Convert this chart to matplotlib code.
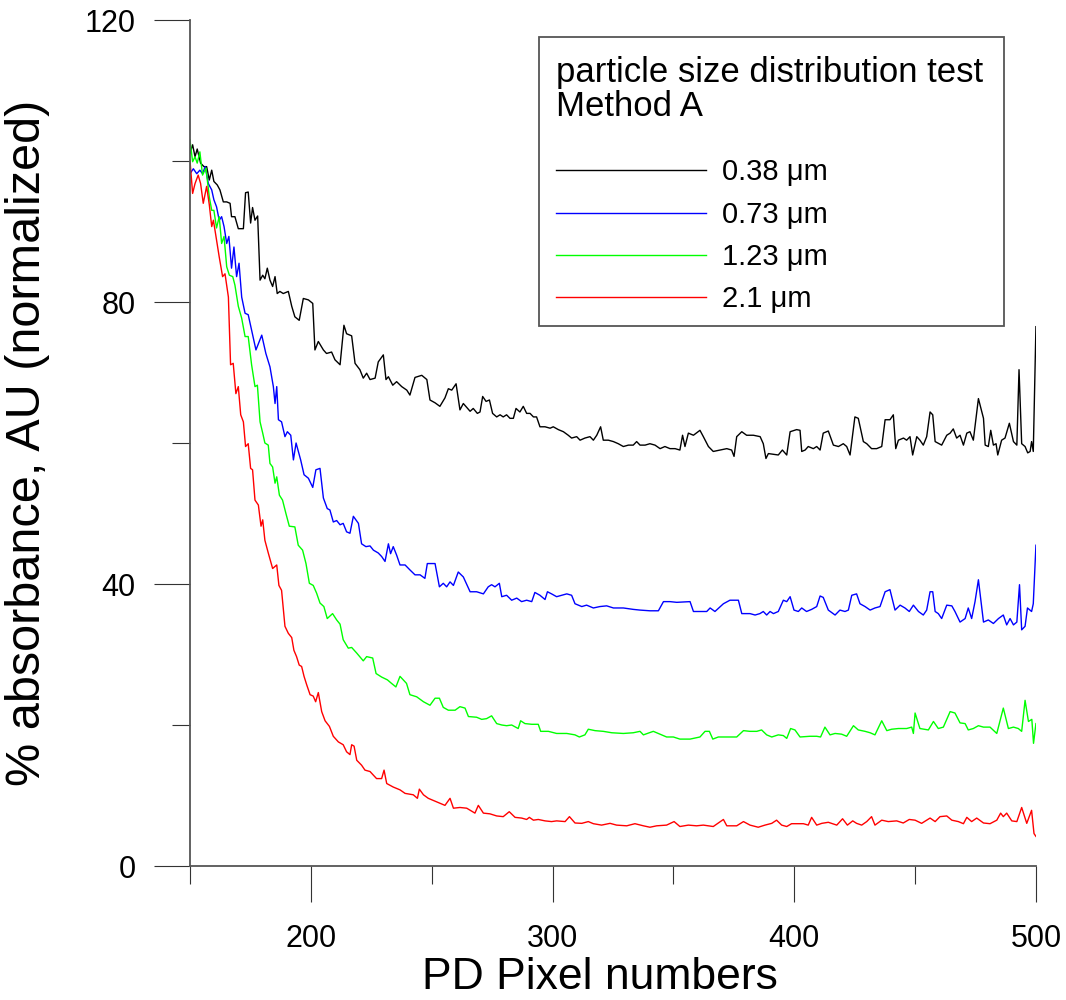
import numpy as np
import matplotlib
matplotlib.use('Agg')
import matplotlib.pyplot as plt
from matplotlib.patches import Rectangle

plt.rcParams['font.family'] = ['Liberation Sans', 'DejaVu Sans']

# values (pixel number, % absorbance)
x_038 = [150, 151.1, 152.1, 153.0, 154.4, 155.8, 156.9, 158.0, 159.0, 159.9,
         161.3, 162.4, 163.8, 165.2, 166.6, 167.2, 168.6, 170.0, 172.1, 173.0,
         174.1, 175.1, 175.9, 176.9, 178.0, 179.0, 180.1, 181.0, 182.0, 183.1,
         184.2, 185.2, 186.1, 187.2, 188.6, 190.7, 192.1, 193.4, 195.2, 196.9,
         199.0, 200.8, 201.7, 203.1, 205.2, 206.5, 208.6, 210.0, 212.1, 213.7,
         214.8, 216.9, 218.3, 220.3, 221.7, 223.1, 224.5, 226.6, 227.9, 230.0,
         231.1, 232.1, 233.9, 235.5, 237.6, 239.7, 241.0, 243.1, 245.9, 248.0,
         249.3, 251.4, 253.4, 255.5, 256.9, 258.3, 260.1, 261.7, 263.1, 265.9,
         267.2, 268.9, 270.0, 271.1, 272.5, 273.9, 275.2, 276.9, 278.3, 279.6,
         281.0, 282.4, 283.8, 284.9, 286.5, 287.9, 289.3, 290.7, 292.1, 293.4,
         294.8, 296.9, 299.0, 300.3, 302.4, 304.5, 306.5, 307.9, 310.0, 311.4,
         313.4, 315.5, 316.9, 318.3, 319.9, 321.0, 323.1, 325.2, 327.2, 329.3,
         331.4, 333.4, 334.8, 336.2, 338.3, 340.3, 342.4, 344.5, 346.5, 348.6,
         350.7, 352.7, 353.8, 354.8, 356.2, 358.3, 361.0, 362.4, 364.5, 366.5,
         369.3, 372.1, 374.1, 375.1, 376.2, 378.3, 380.3, 383.1, 385.9, 387.2,
         388.3, 389.3, 391.4, 393.4, 395.1, 396.9, 398.3, 401.0, 402.4, 403.1,
         404.5, 405.8, 407.9, 409.3, 410.7, 412.0, 414.1, 416.2, 418.3, 420.3,
         421.7, 423.1, 425.1, 426.5, 428.6, 430.0, 432.0, 434.1, 436.2, 437.6,
         439.6, 441.0, 442.0, 443.1, 445.2, 446.5, 447.9, 449.0, 450.7, 452.0,
         453.4, 454.8, 456.2, 457.3, 458.3, 461.0, 463.1, 464.5, 465.8, 467.2,
         468.6, 470.0, 471.4, 472.7, 474.1, 476.2, 478.3, 479.0, 480.3, 481.3,
         482.4, 483.5, 484.2, 485.8, 487.2, 489.0, 490.7, 492.1, 493.0, 494.1,
         495.5, 496.6, 497.6, 498.2, 498.9, 500.0]
y_038 = [101.1, 102.3, 100.6, 101.7, 99.7, 99.2, 99.2, 97.3, 98.7, 97.1,
         96.6, 95.9, 94.2, 94.2, 94.0, 92.1, 92.1, 90.4, 90.4, 95.5,
         95.6, 91.2, 93.4, 91.6, 92.2, 83.1, 83.8, 83.3, 84.8, 83.1,
         82.2, 83.6, 81.2, 81.5, 81.2, 81.5, 79.4, 77.9, 77.4, 80.5,
         80.3, 79.8, 73.2, 74.4, 73.2, 72.7, 72.9, 71.8, 71.1, 76.7,
         75.5, 75.2, 71.3, 70.4, 69.2, 69.9, 69.0, 69.2, 71.5, 72.5,
         69.0, 69.4, 68.2, 68.7, 68.0, 67.5, 66.8, 69.3, 69.6, 69.0,
         66.1, 65.7, 65.2, 66.4, 67.7, 67.5, 68.4, 64.7, 65.6, 64.5,
         64.9, 64.2, 64.4, 66.6, 65.9, 66.1, 64.2, 63.7, 64.0, 63.7,
         64.0, 63.5, 63.5, 64.9, 64.4, 65.2, 64.2, 64.2, 63.7, 63.7,
         62.3, 62.3, 62.1, 62.3, 61.9, 61.6, 61.1, 60.7, 60.9, 60.4,
         60.7, 60.9, 60.4, 61.1, 62.3, 60.4, 60.4, 60.2, 59.9, 59.5,
         59.7, 59.7, 60.2, 59.7, 59.7, 59.9, 59.7, 59.2, 59.5, 59.2,
         59.2, 59.0, 61.1, 59.5, 61.4, 61.1, 61.8, 60.9, 59.5, 58.8,
         59.0, 59.2, 59.0, 58.1, 60.9, 61.6, 61.1, 61.1, 60.9, 59.9,
         57.8, 58.5, 58.4, 58.3, 59.0, 58.3, 61.6, 61.9, 61.8, 58.8,
         59.0, 59.5, 59.2, 59.5, 59.0, 61.4, 61.7, 59.7, 59.5, 59.9,
         59.5, 58.3, 63.7, 63.5, 60.2, 59.9, 59.2, 59.2, 59.5, 63.3,
         63.3, 64.0, 59.2, 60.4, 60.7, 60.4, 60.9, 58.3, 60.9, 60.4,
         59.7, 60.9, 64.4, 64.0, 60.2, 59.7, 61.1, 61.4, 62.0, 60.7,
         61.1, 59.7, 61.4, 61.6, 60.4, 66.3, 63.5, 59.7, 59.5, 61.8,
         59.7, 59.9, 58.3, 60.4, 60.7, 62.8, 60.2, 59.7, 70.4, 59.9,
         59.5, 58.6, 58.8, 60.2, 58.8, 76.5]

x_073 = [150, 151.4, 152.8, 154.1, 155.2, 156.3, 157.6, 159.0, 159.9, 161.0,
         162.1, 163.1, 164.1, 165.2, 166.1, 167.2, 168.2, 169.3, 170.3, 171.4,
         172.8, 174.1, 175.5, 177.3, 179.7, 181.4, 183.1, 184.5, 185.2, 185.9,
         186.6, 187.9, 189.3, 190.3, 191.7, 192.8, 193.9, 195.8, 197.2, 199.0,
         200.8, 202.1, 203.8, 205.2, 206.8, 207.9, 209.3, 210.7, 212.1, 213.4,
         214.8, 216.2, 217.6, 219.7, 221.0, 222.8, 224.5, 225.9, 227.9, 229.3,
         230.7, 232.1, 233.0, 234.1, 235.5, 236.9, 239.0, 241.0, 243.1, 245.2,
         247.2, 248.2, 251.4, 253.2, 254.8, 256.2, 257.6, 259.0, 261.0, 263.1,
         265.9, 268.6, 271.4, 273.4, 274.8, 276.2, 278.0, 279.0, 281.0, 283.1,
         285.2, 287.2, 289.3, 291.4, 292.7, 294.8, 296.9, 297.9, 299.6, 301.7,
         303.8, 305.9, 307.9, 309.3, 312.1, 314.1, 316.9, 319.6, 322.4, 325.2,
         329.3, 333.4, 336.2, 340.3, 343.8, 345.9, 348.6, 351.4, 356.9, 358.3,
         361.0, 363.8, 365.2, 367.2, 370.7, 373.4, 376.9, 378.3,
         381.7, 383.8, 385.8, 387.2, 388.6, 390.0, 391.4, 393.4, 395.5, 396.9,
         398.3, 399.9, 401.7, 403.1, 405.1, 407.2, 409.3, 410.7, 412.0, 414.1,
         416.9, 418.9, 421.0, 422.4, 423.8, 425.8, 427.2, 429.3, 431.4, 433.4,
         435.5, 437.6, 439.6, 441.7, 443.8, 445.8, 447.6, 449.3, 451.4, 453.4,
         454.8, 456.2, 457.3, 458.3, 459.6, 461.0, 463.1, 465.2, 466.5, 468.6,
         470.7, 472.0, 473.4, 474.8, 476.2, 478.3, 480.3, 482.4, 484.5, 486.5,
         487.9, 489.3, 490.7, 492.1, 493.2, 494.1, 495.5, 496.5, 498.2, 498.9,
         500.0]
y_073 = [98.2, 98.9, 98.2, 98.7, 98.2, 99.2, 96.8, 95.9, 94.5, 93.5,
         91.6, 92.1, 90.7, 88.3, 89.3, 84.8, 87.8, 83.6, 85.5, 80.7,
         78.4, 78.2, 76.0, 73.2, 75.3, 72.7, 70.8, 68.0, 65.6, 68.0,
         63.3, 63.0, 60.9, 61.6, 61.1, 57.6, 60.0, 57.6, 55.5, 55.0,
         53.7, 56.2, 56.4, 52.2, 50.7, 50.5, 48.8, 49.0, 48.4, 48.6,
         47.4, 47.2, 49.6, 48.6, 45.7, 45.3, 45.4, 44.8, 44.4, 43.9,
         43.2, 45.7, 44.3, 45.3, 44.1, 42.7, 42.7, 42.0, 41.3, 41.3,
         40.8, 42.9, 42.9, 39.6, 40.1, 39.6, 40.3, 39.8, 41.7, 41.0,
         38.9, 38.9, 38.6, 39.6, 39.9, 39.6, 40.1, 38.2, 38.4, 37.7,
         38.0, 37.5, 37.7, 37.5, 38.8, 38.4, 37.8, 38.9, 38.6, 38.2,
         38.4, 38.6, 38.4, 37.2, 36.8, 37.0, 36.6, 36.8, 36.9, 36.6,
         36.6, 36.4, 36.3, 36.2, 36.2, 37.5, 37.5, 37.4, 37.5, 36.1,
         36.1, 36.1, 36.6, 36.1, 37.2, 37.7, 37.7, 35.8,
         35.8, 35.6, 35.8, 36.1, 35.6, 36.1, 35.8, 36.1, 37.7, 37.5,
         38.2, 36.3, 36.1, 36.6, 36.1, 36.4, 36.8, 38.3, 38.1, 36.3,
         35.6, 36.3, 36.1, 36.3, 38.4, 38.6, 37.2, 36.8, 36.3, 36.6,
         36.8, 38.9, 39.2, 36.3, 37.0, 36.6, 36.1, 37.0, 36.1, 35.6,
         36.3, 38.9, 38.9, 36.1, 35.8, 35.1, 37.0, 36.9, 36.1, 34.6,
         35.1, 36.6, 35.1, 37.5, 40.6, 34.6, 34.9, 34.4, 35.1, 35.6,
         34.2, 35.1, 34.2, 34.6, 39.9, 33.5, 34.0, 36.6, 36.1, 37.2,
         45.5]

x_123 = [150, 151.1, 152.1, 153.0, 154.1, 155.2, 156.6, 158.0, 159.0, 159.9,
         161.0, 162.1, 163.1, 164.1, 165.2, 166.3, 167.7, 168.6, 170.0, 171.4,
         172.8, 174.1, 175.5, 176.9, 177.9,
         179.0, 180.1, 181.0, 182.4, 183.1, 184.2, 185.2, 185.9, 187.0, 188.3,
         189.7, 191.1, 193.4, 194.8, 196.6, 198.0, 199.4, 201.0, 202.4, 203.8,
         205.4, 206.8, 209.0, 210.7, 212.1, 213.4, 215.5, 216.9, 219.0, 221.7,
         223.1, 225.6, 227.0, 229.3, 231.7, 233.4, 235.2, 236.9, 239.6, 241.0,
         243.8, 246.6, 249.3, 251.4, 253.2, 254.8, 256.9, 259.7, 261.7, 263.8,
         265.2,
         268.6, 270.7, 272.7, 274.8, 276.9, 279.0, 281.0, 283.1, 285.8, 286.8,
         288.6, 291.4, 294.1, 295.1, 298.3, 301.7, 305.9, 309.3, 311.1, 313.4,
         314.8, 317.6, 321.0, 324.5, 329.3, 333.4, 336.2, 337.6, 341.7, 344.5,
         347.2, 350.0, 352.7, 356.9, 361.0, 363.1, 364.9, 366.3, 368.6, 370.7,
         373.4, 376.2, 379.0,
         381.7, 384.5, 386.5, 388.6, 390.7, 393.4, 395.5, 396.9, 398.5, 400.3,
         402.4, 406.5, 409.3, 410.9, 412.7, 414.8, 416.9, 419.6, 421.7, 424.5,
         426.5, 429.3, 431.4, 433.4, 436.2, 438.3, 440.3, 443.1, 446.5, 448.6,
         449.3, 450.0, 452.0, 455.5, 457.6, 459.6, 461.7, 464.5, 466.5, 468.6,
         470.7, 472.0, 474.1, 476.2, 478.3, 481.0, 483.8, 486.5, 488.6, 490.7,
         492.7, 494.1, 495.5, 496.9, 498.3, 499.0, 500.0]
y_123 = [103.0, 99.9, 100.6, 99.7, 101.3, 98.0, 99.0, 94.9, 93.0, 93.0,
         90.5, 92.1, 88.3, 89.3, 85.0, 83.8, 83.6, 82.4, 79.4, 77.7,
         75.1, 75.1, 71.1, 68.0, 68.2,
         63.0, 61.4, 60.0, 59.7, 57.1, 56.6, 54.3, 55.2, 52.6, 51.9,
         50.0, 48.2, 48.1, 45.5, 44.8, 42.9, 40.1, 39.8, 38.7, 37.3,
         36.8, 35.1, 35.8, 34.9, 34.3, 32.1, 30.9, 31.0, 30.2, 29.1,
         29.7, 29.5, 27.3, 26.8, 26.4, 25.9, 25.4, 26.9, 25.9, 24.3,
         24.0, 23.3, 22.8, 23.8, 23.8, 22.5, 22.1, 22.1, 22.6, 22.4,
         21.2,
         21.1, 20.8, 20.9, 21.3, 20.2, 20.0, 19.9, 20.0, 19.5, 20.6,
         20.2, 20.1, 20.1, 19.1, 19.1, 18.8, 18.8, 18.6, 18.3, 18.6,
         19.4, 19.2, 19.1, 18.9, 18.8, 18.9, 19.1, 18.6, 19.1, 18.7,
         18.3, 18.3, 18.0, 18.0, 18.3, 19.1, 19.1, 18.0, 18.3, 18.3,
         18.3, 18.3, 19.2,
         19.1, 19.1, 19.3, 18.6, 18.3, 18.6, 18.5, 18.1, 19.5, 19.3,
         18.3, 18.4, 18.4, 18.3, 19.7, 18.6, 18.8, 18.7, 18.4, 19.9,
         19.3, 19.1, 18.9, 18.6, 20.6, 19.2, 19.4, 19.5, 19.5, 19.7,
         18.8, 21.7, 19.5, 19.3, 20.5, 19.5, 19.7, 21.9, 21.7, 20.3,
         20.2, 19.3, 19.5, 19.9, 19.7, 19.7, 18.8, 22.4, 19.5, 19.7,
         19.5, 19.1, 23.5, 20.5, 20.8, 17.4, 20.2]

x_21 = [150, 151.1, 152.1, 153.4, 154.4, 155.5, 156.9, 158.0, 159.0, 159.7,
        161.0, 162.1, 163.5, 164.5, 165.9, 166.8, 167.9, 169.0, 170.0, 171.0,
        172.1, 173.0, 174.1, 175.1, 175.9, 176.9, 178.3, 179.4, 180.1, 181.0,
        182.4, 184.2, 185.9, 186.8, 187.9, 189.3, 190.7, 192.1, 193.0, 194.1,
        195.2, 196.2, 197.2, 198.3, 199.7, 201.0, 202.0, 203.1, 204.5, 205.9,
        207.7, 209.3, 211.4, 213.4, 214.8, 216.2, 216.9, 217.9, 219.0, 221.0,
        222.4, 224.5, 227.2, 229.3, 230.3, 231.4, 234.1, 236.9, 239.0, 242.4,
        244.1, 244.9, 246.6, 248.6, 252.1, 255.5, 257.6, 259.0, 261.7, 264.5,
        267.9, 269.3,
        271.4, 274.1, 276.9, 279.6, 282.1, 284.5, 287.2, 289.3, 290.4, 292.1,
        294.1, 296.9, 299.6, 301.7, 305.2, 307.0, 309.3, 312.1, 314.8, 316.9,
        320.3, 323.8, 326.5, 330.7, 334.1, 337.6, 340.3, 343.1, 347.2, 350.3,
        352.7, 356.2, 359.6, 362.4, 366.5, 368.6, 370.7, 372.1, 376.2, 379.0,
        381.7, 385.1, 387.9, 390.7, 392.7, 394.8, 396.9, 398.9, 403.8, 405.8,
        407.2, 409.3, 411.4, 414.1, 417.6, 420.0, 422.0, 424.2, 425.8, 427.9,
        430.0, 432.0, 433.4, 436.2, 438.9, 442.4, 445.1, 447.6, 450.0, 452.7,
        456.2, 458.3, 460.3, 463.1, 465.2, 467.9, 470.0, 471.4, 473.4, 475.5,
        478.3, 481.0, 483.8, 485.4, 486.5, 487.9, 490.0, 492.1, 494.1, 496.2,
        498.2, 499.2, 500.0]
y_21 = [100.1, 95.4, 96.8, 98.0, 96.8, 94.0, 96.4, 93.8, 90.7, 91.6,
        88.8, 86.4, 83.6, 84.0, 80.7, 71.1, 71.3, 67.0, 68.0, 64.0,
        63.0, 59.5, 59.9, 56.4, 56.2, 51.9, 51.2, 48.2, 49.1, 46.2,
        44.4, 42.2, 42.7, 39.8, 39.1, 34.0, 33.0, 32.4, 30.6, 29.7,
        28.5, 28.3, 26.9, 25.7, 24.3, 24.1, 23.3, 24.6, 21.9, 20.6,
        19.8, 18.4, 17.6, 17.2, 16.2, 15.8, 17.2, 17.0, 15.0, 14.3,
        13.6, 13.4, 12.4, 12.4, 13.6, 11.7, 11.2, 10.8, 10.3, 10.1,
        9.6, 10.9, 10.1, 9.6, 9.1, 8.6, 9.6, 8.2, 8.3, 8.2,
        7.5, 8.6,
        7.5, 7.4, 7.1, 7.0, 7.7, 6.9, 6.8, 6.6, 6.9, 6.5,
        6.6, 6.4, 6.3, 6.4, 6.3, 7.0, 6.1, 6.05, 6.3, 6.0,
        5.8, 6.05, 5.8, 5.7, 6.0, 5.7, 5.5, 5.7, 5.8, 6.3,
        5.6, 5.8, 5.7, 5.8, 5.6, 6.1, 6.6, 5.7, 5.7, 6.3,
        5.8, 5.5, 5.8, 6.05, 6.5, 5.8, 5.6, 6.0, 6.0, 5.8,
        6.9, 5.8, 6.05, 6.2, 5.8, 6.7, 5.8, 6.4, 6.05, 5.8,
        6.3, 7.0, 5.8, 6.5, 6.3, 6.4, 6.1, 6.6, 6.5, 6.05,
        6.8, 6.3, 7.0, 7.1, 6.5, 6.3, 6.0, 6.9, 6.3, 6.8,
        6.1, 6.0, 6.5, 7.5, 7.0, 7.5, 6.4, 6.3, 8.3, 6.05,
        7.9, 4.6, 4.2]

sizes = ['0.38 \u03bcm', '0.73 \u03bcm', '1.23 \u03bcm', '2.1 \u03bcm']
colors = ['black', '#0000ff', '#00ff00', '#ff0000']
series = [(x_038, y_038), (x_073, y_073), (x_123, y_123), (x_21, y_21)]

fig = plt.figure(figsize=(10.66, 10.0), dpi=100)
ax = fig.add_axes([0.1782, 0.134, 0.7936, 0.846])

for (xs, ys), c, lab in zip(series, colors, sizes):
    ax.plot(xs, ys, color=c, lw=1.0, label=lab)

ax.set_xlim(150, 500)
ax.set_ylim(0, 120)
ax.set_xticks([200, 300, 400, 500])
ax.set_xticks([150, 250, 350, 450], minor=True)
ax.set_yticks([0, 40, 80, 120])
ax.set_yticks([20, 60, 100], minor=True)

for s in ['top', 'right']:
    ax.spines[s].set_visible(False)
for s in ['left', 'bottom']:
    ax.spines[s].set_color('#555555')
    ax.spines[s].set_linewidth(1.3)

ax.tick_params(which='major', direction='out', length=26, width=0.8, color='#333333')
ax.tick_params(which='minor', direction='out', length=13, width=0.8, color='#333333')
ax.tick_params(axis='y', which='major', labelsize=22, pad=13)
ax.tick_params(axis='x', which='major', labelsize=22, pad=16)

ax.set_xlabel('PD Pixel numbers', fontsize=32)
ax.xaxis.set_label_coords(0.485, -0.108)
ax.set_ylabel('% absorbance, AU (normalized)', fontsize=35)
ax.yaxis.set_label_coords(-0.165, 0.5)

# legend box: frame, two-line title, then the four entries
ax.add_patch(Rectangle((0.4125, 0.6383), 0.5497, 0.3416, transform=ax.transAxes,
                       fill=False, ec='#555555', lw=1.3, clip_on=False))
ax.text(0.4326, 0.8865, 'particle size distribution test\nMethod A', transform=ax.transAxes,
        fontsize=25, va='baseline', ha='left', linespacing=1.04)
ax.legend(loc='upper left', bbox_to_anchor=(0.4326, 0.8363), frameon=False, borderpad=0,
          fontsize=21, handlelength=5.13, handletextpad=0.58, labelspacing=0.49,
          borderaxespad=0)

fig.savefig('out.png', dpi=100)
